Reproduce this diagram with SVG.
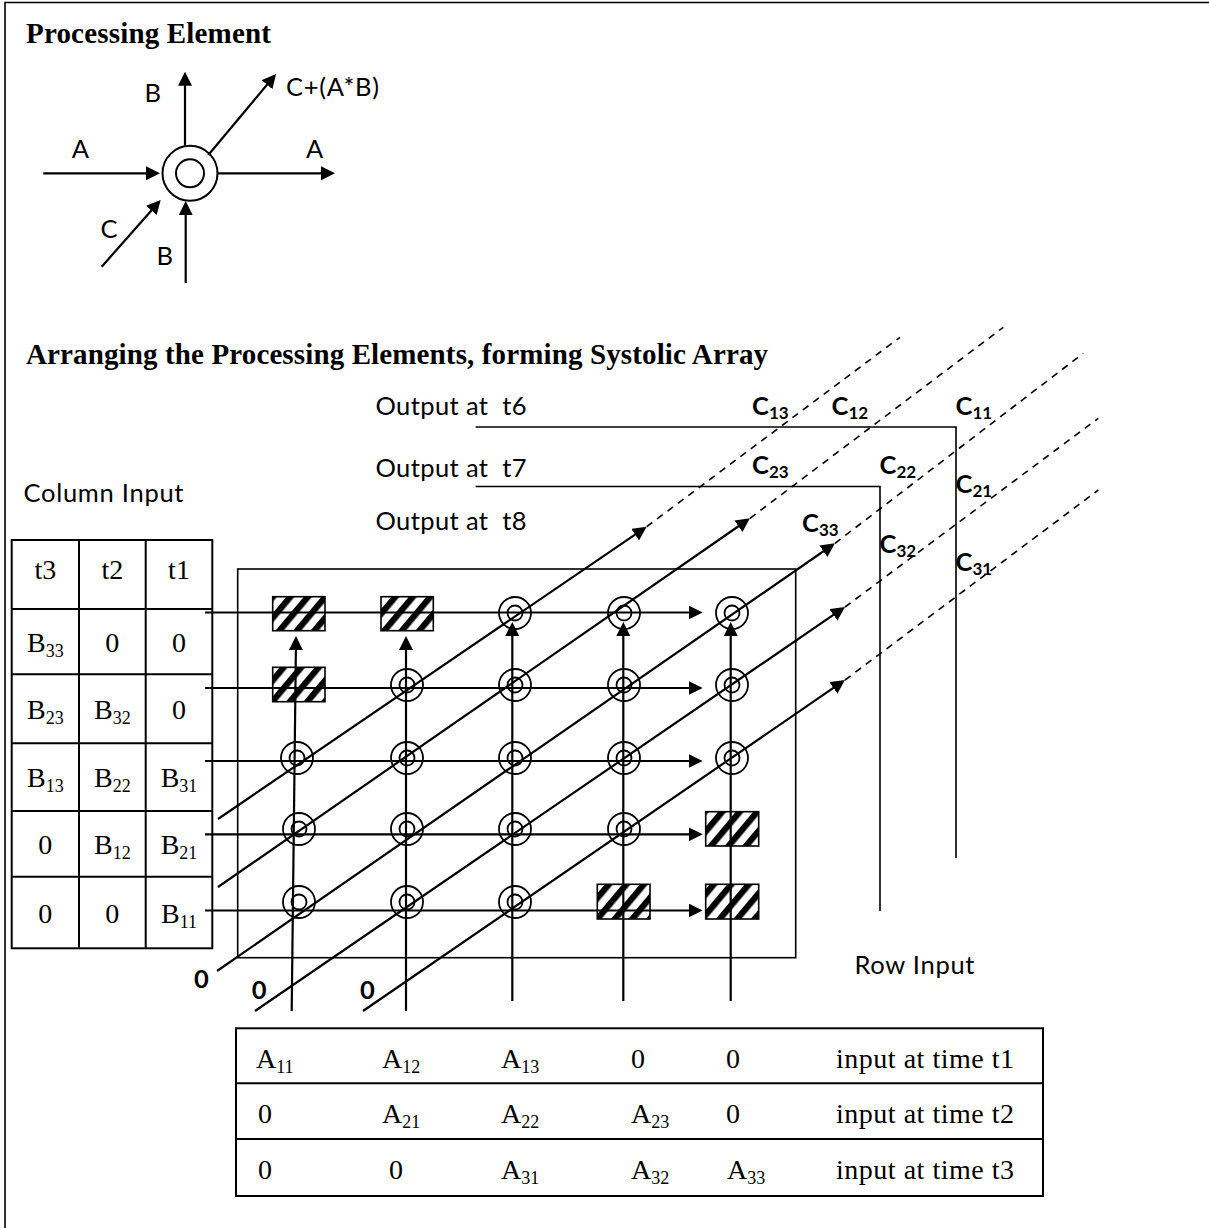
<svg xmlns="http://www.w3.org/2000/svg" width="1209" height="1228" viewBox="0 0 1209 1228">
<defs>
<style>
.serifB{font-family:"Liberation Serif","Times New Roman",serif;font-weight:bold;font-size:29px}
.serif{font-family:"Liberation Serif","Times New Roman",serif;font-size:28px}
.sans{font-family:Lato,"Liberation Sans",sans-serif;font-size:25.5px}
.sansB{font-family:Lato,"Liberation Sans",sans-serif;font-size:25.5px;font-weight:bold}
.thin{fill:none;stroke:#000;stroke-width:1.6}
.tbl{fill:none;stroke:#000;stroke-width:2}
.arr{fill:none;stroke:#000;stroke-width:2.2;marker-end:url(#ah)}
.dash{fill:none;stroke:#000;stroke-width:1.6;stroke-dasharray:7 6}
.pe circle{fill:none;stroke:#000;stroke-width:1.8}
.hb{fill:url(#hatch);stroke:#000;stroke-width:1.6}
.pre{white-space:pre}
</style>
<marker id="ah" markerUnits="userSpaceOnUse" markerWidth="14" markerHeight="14" viewBox="0 0 14 14" refX="11" refY="7" orient="auto"><path d="M0,0 L14,7 L0,14 z" fill="#000"/></marker>
<pattern id="hatch" patternUnits="userSpaceOnUse" width="13.4" height="13.4" patternTransform="rotate(40)"><rect width="13.4" height="13.4" fill="#fff"/><rect width="6.2" height="13.4" fill="#000"/></pattern>
</defs>
<rect width="1209" height="1228" fill="#fff"/>
<path d="M5,1228 V2.5 H1209" class="thin"/>

<text class="serifB" x="26" y="43" textLength="245">Processing Element</text>
<text class="serifB" x="26" y="364" textLength="742">Arranging the Processing Elements, forming Systolic Array</text>

<!-- Single processing element -->
<g id="pe-single">
  <circle cx="190" cy="173.3" r="27.5" fill="none" stroke="#000" stroke-width="2"/>
  <circle cx="190" cy="173.3" r="14" fill="none" stroke="#000" stroke-width="2"/>
  <text class="sans" x="144.5" y="101.7">B</text>
  <text class="sans" x="286" y="96" textLength="93">C+(A*B)</text>
  <text class="sans" x="71.7" y="158.3">A</text>
  <text class="sans" x="306" y="158.3">A</text>
  <text class="sans" x="100.5" y="238.3">C</text>
  <text class="sans" x="156.5" y="265">B</text>
</g>
<g id="pe-connectors">
  <line class="arr" x1="185" y1="145.7" x2="185" y2="74.7"/>
  <line class="arr" x1="185.7" y1="283" x2="185.7" y2="204"/>
  <line class="arr" x1="43.3" y1="173.3" x2="157" y2="173.3"/>
  <line class="arr" x1="217.7" y1="173.3" x2="332" y2="173.3"/>
  <line class="arr" x1="101.7" y1="266.7" x2="158.7" y2="202.2"/>
  <line class="arr" x1="208.3" y1="155" x2="274.1" y2="76.3"/>
</g>

<!-- Column input table -->
<g id="column-input">
  <text class="sans" x="23.5" y="501.7" textLength="160">Column Input</text>
  <rect class="tbl" x="11.7" y="540" width="200.6" height="408.3"/>
  <path class="tbl" d="M79,540 V948.3 M145.7,540 V948.3 M11.7,609 H212.3 M11.7,674.3 H212.3 M11.7,743.3 H212.3 M11.7,811 H212.3 M11.7,876.7 H212.3"/>
  <g class="serif" text-anchor="middle">
    <text x="45.3" y="579">t3</text><text x="112.3" y="579">t2</text><text x="179" y="579">t1</text>
    <text x="45.3" y="651.7">B<tspan font-size="18" dy="5">33</tspan></text><text x="112.3" y="651.7">0</text><text x="179" y="651.7">0</text>
    <text x="45.3" y="718.8">B<tspan font-size="18" dy="5">23</tspan></text><text x="112.3" y="718.8">B<tspan font-size="18" dy="5">32</tspan></text><text x="179" y="718.8">0</text>
    <text x="45.3" y="787.2">B<tspan font-size="18" dy="5">13</tspan></text><text x="112.3" y="787.2">B<tspan font-size="18" dy="5">22</tspan></text><text x="179" y="787.2">B<tspan font-size="18" dy="5">31</tspan></text>
    <text x="45.3" y="853.9">0</text><text x="112.3" y="853.9">B<tspan font-size="18" dy="5">12</tspan></text><text x="179" y="853.9">B<tspan font-size="18" dy="5">21</tspan></text>
    <text x="45.3" y="922.5">0</text><text x="112.3" y="922.5">0</text><text x="179" y="922.5">B<tspan font-size="18" dy="5">11</tspan></text>
  </g>
</g>

<!-- Array boundary -->
<rect id="array-frame" class="thin" x="237.7" y="569" width="558" height="388.7"/>

<!-- Delay (hatched) elements -->
<g id="delay-r1c1"><rect class="hb" x="272.7" y="596.7" width="52.3" height="34"/></g>
<g id="delay-r1c2"><rect class="hb" x="381" y="596.7" width="52.3" height="34"/></g>
<g id="delay-r2c1"><rect class="hb" x="272.7" y="667.3" width="52.3" height="34.4"/></g>
<g id="delay-r4c5"><rect class="hb" x="705.7" y="811.7" width="53" height="34.3"/></g>
<g id="delay-r5c4"><rect class="hb" x="597.3" y="884.3" width="52.7" height="34.7"/></g>
<g id="delay-r5c5"><rect class="hb" x="705.7" y="884.3" width="53" height="34.7"/></g>

<!-- Processing elements in array -->
<g id="pe-r1c3" class="pe"><circle cx="515" cy="613" r="16"/><circle cx="515" cy="613" r="7.5"/></g>
<g id="pe-r1c4" class="pe"><circle cx="624" cy="613" r="16"/><circle cx="624" cy="613" r="7.5"/></g>
<g id="pe-r1c5" class="pe"><circle cx="732" cy="613" r="16"/><circle cx="732" cy="613" r="7.5"/></g>
<g id="pe-r2c2" class="pe"><circle cx="407" cy="685" r="16"/><circle cx="407" cy="685" r="7.5"/></g>
<g id="pe-r2c3" class="pe"><circle cx="515" cy="685" r="16"/><circle cx="515" cy="685" r="7.5"/></g>
<g id="pe-r2c4" class="pe"><circle cx="624" cy="685" r="16"/><circle cx="624" cy="685" r="7.5"/></g>
<g id="pe-r2c5" class="pe"><circle cx="732" cy="685" r="16"/><circle cx="732" cy="685" r="7.5"/></g>
<g id="pe-r3c1" class="pe"><circle cx="297" cy="758" r="16"/><circle cx="297" cy="758" r="7.5"/></g>
<g id="pe-r3c2" class="pe"><circle cx="407" cy="758" r="16"/><circle cx="407" cy="758" r="7.5"/></g>
<g id="pe-r3c3" class="pe"><circle cx="515" cy="758" r="16"/><circle cx="515" cy="758" r="7.5"/></g>
<g id="pe-r3c4" class="pe"><circle cx="624" cy="758" r="16"/><circle cx="624" cy="758" r="7.5"/></g>
<g id="pe-r3c5" class="pe"><circle cx="732" cy="758" r="16"/><circle cx="732" cy="758" r="7.5"/></g>
<g id="pe-r4c1" class="pe"><circle cx="299" cy="829" r="16"/><circle cx="299" cy="829" r="7.5"/></g>
<g id="pe-r4c2" class="pe"><circle cx="407" cy="829" r="16"/><circle cx="407" cy="829" r="7.5"/></g>
<g id="pe-r4c3" class="pe"><circle cx="515" cy="829" r="16"/><circle cx="515" cy="829" r="7.5"/></g>
<g id="pe-r4c4" class="pe"><circle cx="624" cy="829" r="16"/><circle cx="624" cy="829" r="7.5"/></g>
<g id="pe-r5c1" class="pe"><circle cx="299" cy="902" r="16"/><circle cx="299" cy="902" r="7.5"/></g>
<g id="pe-r5c2" class="pe"><circle cx="407" cy="902" r="16"/><circle cx="407" cy="902" r="7.5"/></g>
<g id="pe-r5c3" class="pe"><circle cx="515" cy="902" r="16"/><circle cx="515" cy="902" r="7.5"/></g>

<!-- Connectors -->
<g id="connectors">
  <line class="arr" x1="205" y1="612.5" x2="699.7" y2="612.5"/>
  <line class="arr" x1="205" y1="688" x2="699.7" y2="688"/>
  <line class="arr" x1="205" y1="761" x2="699.7" y2="761"/>
  <line class="arr" x1="205" y1="834.3" x2="699.7" y2="834.3"/>
  <line class="arr" x1="205" y1="910.5" x2="699.7" y2="910.5"/>
  <line class="arr" x1="291.7" y1="1011" x2="296" y2="639"/>
  <line class="arr" x1="406" y1="1011" x2="406" y2="639"/>
  <line class="arr" x1="512.3" y1="1001" x2="512.3" y2="625"/>
  <line class="arr" x1="623.3" y1="1001" x2="623.3" y2="625"/>
  <line class="arr" x1="730.7" y1="1001" x2="730.7" y2="625"/>
  <line class="arr" x1="218" y1="819" x2="644.2" y2="528.4"/>
  <line class="arr" x1="218" y1="887" x2="747.5" y2="520"/>
  <line class="arr" x1="217" y1="971" x2="832.5" y2="545"/>
  <line class="arr" x1="255" y1="1011" x2="842.5" y2="608.7"/>
  <line class="arr" x1="363" y1="1011" x2="842.5" y2="681.7"/>
  <line class="dash" x1="646.7" y1="526.7" x2="900" y2="337.3"/>
  <line class="dash" x1="750" y1="518.3" x2="1003.3" y2="327.3"/>
  <line class="dash" x1="835" y1="543.3" x2="1083.3" y2="353.3"/>
  <line class="dash" x1="845" y1="607" x2="1098.3" y2="418.3"/>
  <line class="dash" x1="845" y1="680" x2="1098.3" y2="490"/>
  <polyline class="thin" points="475.6,427 956,427 956,858"/>
  <polyline class="thin" points="475.6,486.5 880,486.5 880,911"/>
</g>

<!-- Zero inputs on diagonals -->
<g id="zero-inputs" class="sansB">
  <text x="194" y="988">0</text>
  <text x="251.7" y="999">0</text>
  <text x="360" y="999">0</text>
</g>

<!-- Output labels -->
<g id="output-labels">
  <text class="sans pre" x="375.5" y="415" textLength="151" xml:space="preserve">Output at  t6</text>
  <text class="sans pre" x="375.5" y="476.7" textLength="151" xml:space="preserve">Output at  t7</text>
  <text class="sans pre" x="375.5" y="530" textLength="151" xml:space="preserve">Output at  t8</text>
  <g class="sansB">
    <text x="752" y="415">C<tspan font-size="17" dy="4">13</tspan></text>
    <text x="831.5" y="415">C<tspan font-size="17" dy="4">12</tspan></text>
    <text x="955.5" y="415">C<tspan font-size="17" dy="4">11</tspan></text>
    <text x="752" y="474.3">C<tspan font-size="17" dy="4">23</tspan></text>
    <text x="879.5" y="474.3">C<tspan font-size="17" dy="4">22</tspan></text>
    <text x="955.5" y="493.3">C<tspan font-size="17" dy="4">21</tspan></text>
    <text x="802" y="531.7">C<tspan font-size="17" dy="4">33</tspan></text>
    <text x="879.5" y="553.3">C<tspan font-size="17" dy="4">32</tspan></text>
    <text x="955.5" y="571">C<tspan font-size="17" dy="4">31</tspan></text>
  </g>
</g>

<text id="row-input-label" class="sans" x="854.5" y="974.3" textLength="120">Row Input</text>

<!-- Row input table -->
<g id="row-input">
  <rect class="tbl" x="236" y="1028.3" width="807" height="167.7"/>
  <path class="tbl" d="M236,1083.3 H1043 M236,1139 H1043"/>
  <g class="serif">
    <text x="256" y="1068">A<tspan font-size="18" dy="5">11</tspan></text>
    <text x="382" y="1068">A<tspan font-size="18" dy="5">12</tspan></text>
    <text x="501" y="1068">A<tspan font-size="18" dy="5">13</tspan></text>
    <text x="631" y="1068">0</text>
    <text x="726" y="1068">0</text>
    <text x="836" y="1068" textLength="178">input at time t1</text>
    <text x="258" y="1123">0</text>
    <text x="382" y="1123">A<tspan font-size="18" dy="5">21</tspan></text>
    <text x="501" y="1123">A<tspan font-size="18" dy="5">22</tspan></text>
    <text x="631" y="1123">A<tspan font-size="18" dy="5">23</tspan></text>
    <text x="726" y="1123">0</text>
    <text x="836" y="1123" textLength="178">input at time t2</text>
    <text x="258" y="1179">0</text>
    <text x="389" y="1179">0</text>
    <text x="501" y="1179">A<tspan font-size="18" dy="5">31</tspan></text>
    <text x="631" y="1179">A<tspan font-size="18" dy="5">32</tspan></text>
    <text x="727" y="1179">A<tspan font-size="18" dy="5">33</tspan></text>
    <text x="836" y="1179" textLength="178">input at time t3</text>
  </g>
</g>
</svg>
